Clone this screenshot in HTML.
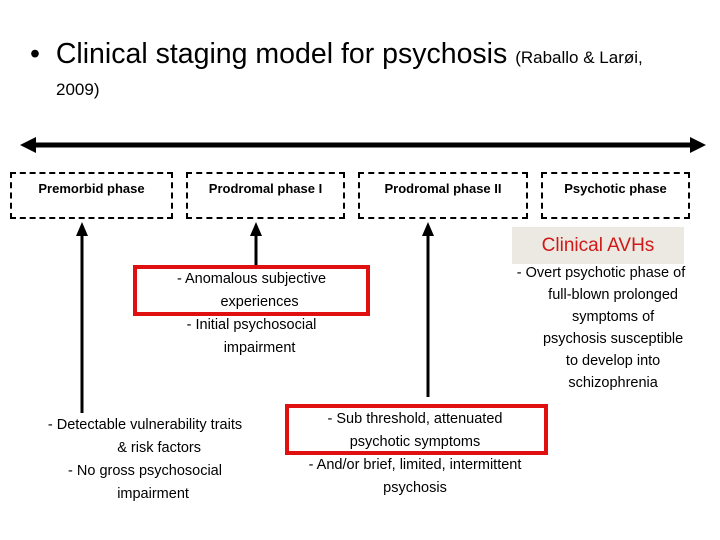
<!DOCTYPE html>
<html><head><meta charset="utf-8"><style>
body{margin:0;width:720px;height:540px;background:#fff;position:relative;overflow:hidden;font-family:"Liberation Sans",sans-serif;color:#000}
.a{position:absolute}
.box{position:absolute;border:2px dashed #000;box-sizing:border-box;font-size:13px;font-weight:bold;text-align:center;padding-top:7px}
.t{position:absolute;font-size:14.5px;text-align:center;line-height:22px}
.red{position:absolute;border:4px solid #e01010;box-sizing:border-box}
</style></head><body>
<div class="a" style="left:30px;top:38px;font-size:28.5px">•&nbsp; Clinical staging model for psychosis <span style="font-size:17px">(Raballo &amp; Larøi,</span></div>
<div class="a" style="left:56px;top:80px;font-size:17px">2009)</div>
<svg class="a" style="left:0;top:0" width="720" height="540">
<line x1="34" y1="145" x2="692" y2="145" stroke="#000" stroke-width="5"/>
<path d="M20,145 L36,137 L36,153z" fill="#000"/><path d="M706,145 L690,137 L690,153z" fill="#000"/>
<line x1="82" y1="413" x2="82" y2="232" stroke="#000" stroke-width="3"/><path d="M82,222 L76,236 L88,236z"/>
<line x1="256" y1="268" x2="256" y2="232" stroke="#000" stroke-width="3"/><path d="M256,222 L250,236 L262,236z"/>
<line x1="428" y1="397" x2="428" y2="232" stroke="#000" stroke-width="3"/><path d="M428,222 L422,236 L434,236z"/>
</svg>
<div class="box" style="left:10px;top:172px;width:163px;height:47px">Premorbid phase</div>
<div class="box" style="left:186px;top:172px;width:159px;height:47px">Prodromal phase I</div>
<div class="box" style="left:358px;top:172px;width:170px;height:47px">Prodromal phase II</div>
<div class="box" style="left:541px;top:172px;width:149px;height:47px">Psychotic phase</div>
<div class="a" style="left:512px;top:227px;width:172px;height:37px;background:#ece9e3;color:#d01818;font-size:19px;text-align:center;line-height:37px">Clinical AVHs</div>
<div class="red" style="left:133px;top:265px;width:237px;height:51px"></div>
<div class="t" style="left:133px;top:268px;width:237px;line-height:23px">- Anomalous subjective<br>&nbsp;&nbsp;&nbsp;&nbsp;experiences<br>- Initial psychosocial<br>&nbsp;&nbsp;&nbsp;&nbsp;impairment</div>
<div class="t" style="left:20px;top:414px;width:250px;line-height:23px">- Detectable vulnerability traits<br>&nbsp;&nbsp;&nbsp;&nbsp;&nbsp;&nbsp;&nbsp;&amp; risk factors<br>- No gross psychosocial<br>&nbsp;&nbsp;&nbsp;&nbsp;impairment</div>
<div class="red" style="left:285px;top:404px;width:263px;height:51px"></div>
<div class="t" style="left:280px;top:408px;width:270px;line-height:23px">- Sub threshold, attenuated<br>psychotic symptoms<br>- And/or brief, limited, intermittent<br>psychosis</div>
<div class="t" style="left:496px;top:262px;width:210px">- Overt psychotic phase of<br>&nbsp;&nbsp;&nbsp;&nbsp;&nbsp;&nbsp;full-blown prolonged<br>&nbsp;&nbsp;&nbsp;&nbsp;&nbsp;&nbsp;symptoms of<br>&nbsp;&nbsp;&nbsp;&nbsp;&nbsp;&nbsp;psychosis susceptible<br>&nbsp;&nbsp;&nbsp;&nbsp;&nbsp;&nbsp;to develop into<br>&nbsp;&nbsp;&nbsp;&nbsp;&nbsp;&nbsp;schizophrenia</div>
</body></html>
